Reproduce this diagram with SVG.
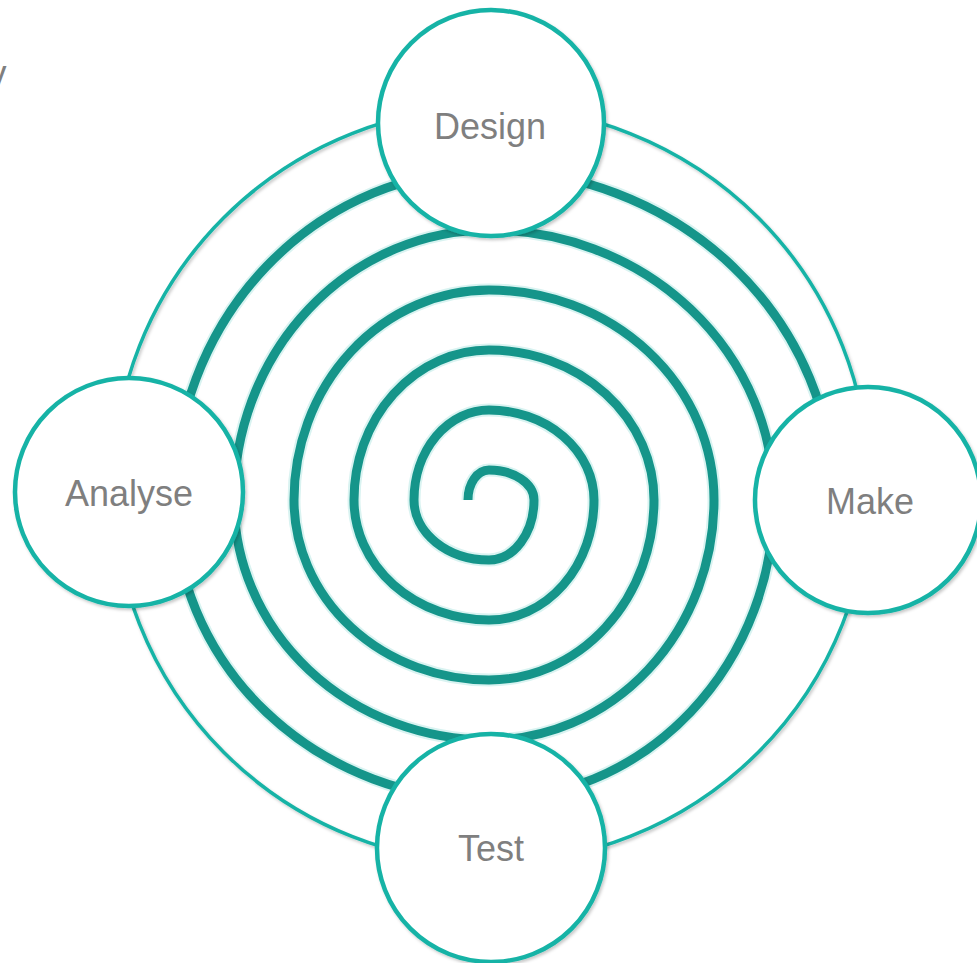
<svg xmlns="http://www.w3.org/2000/svg" width="977" height="963" viewBox="0 0 977 963">
  <style>
    .ring { fill: none; stroke: #17b3a6; stroke-width: 3.5; }
    .node circle { fill: #ffffff; stroke: #17b3a6; stroke-width: 4.5; }
    .node text, .label { font-family: "Liberation Sans", Arial, sans-serif; font-size: 36px; fill: #7f7f7f; text-anchor: middle; }
    .spiral { fill: none; stroke: #15958a; stroke-width: 9; stroke-linecap: butt; }
    .halo { fill: none; stroke: #d9f3f1; stroke-width: 13; }
  </style>
  <defs>
    <filter id="shadow" x="-20%" y="-20%" width="140%" height="140%">
      <feDropShadow dx="1.5" dy="2" stdDeviation="1.5" flood-color="#000" flood-opacity="0.22"/>
    </filter>
  </defs>
  <rect width="977" height="963" fill="#ffffff"/>

  <text class="label" x="-2.5" y="86" style="text-anchor: middle" fill="#707070">y</text>

  <g id="background">
    <circle class="ring" cx="491" cy="485" r="378" filter="url(#shadow)"/>
    <g id="spiral-group">
      <path id="spiral-halo" class="halo" d="M 468 500 A 21 30 0 0 1 489 470 A 45 30 0 0 1 534 500 A 45 60 0 0 1 489 560 A 75 60 0 0 1 414 500 A 75 90 0 0 1 489 410 A 105 90 0 0 1 594 500 A 105 120 0 0 1 489 620 A 135 120 0 0 1 354 500 A 135 150 0 0 1 489 350 A 165 150 0 0 1 654 500 A 165 180 0 0 1 489 680 A 195 180 0 0 1 294 500 A 195 210 0 0 1 489 290 A 225 210 0 0 1 714 500 A 225 240 0 0 1 489 740 A 255 240 0 0 1 234 500 A 255 270 0 0 1 489 230 A 285 270 0 0 1 774 500 A 285 300 0 0 1 489 800 A 315 300 0 0 1 174 500 A 315 330 0 0 1 489 170 A 345 330 0 0 1 834 500"/>
      <path id="spiral" class="spiral" d="M 468 500 A 21 30 0 0 1 489 470 A 45 30 0 0 1 534 500 A 45 60 0 0 1 489 560 A 75 60 0 0 1 414 500 A 75 90 0 0 1 489 410 A 105 90 0 0 1 594 500 A 105 120 0 0 1 489 620 A 135 120 0 0 1 354 500 A 135 150 0 0 1 489 350 A 165 150 0 0 1 654 500 A 165 180 0 0 1 489 680 A 195 180 0 0 1 294 500 A 195 210 0 0 1 489 290 A 225 210 0 0 1 714 500 A 225 240 0 0 1 489 740 A 255 240 0 0 1 234 500 A 255 270 0 0 1 489 230 A 285 270 0 0 1 774 500 A 285 300 0 0 1 489 800 A 315 300 0 0 1 174 500 A 315 330 0 0 1 489 170 A 345 330 0 0 1 834 500"/>
    </g>
  </g>

  <g id="connectors"></g>

  <g id="node-design" class="node">
    <circle cx="491" cy="123" r="113" filter="url(#shadow)"/>
    <text x="490" y="139">Design</text>
  </g>
  <g id="node-make" class="node">
    <circle cx="868" cy="500" r="113" filter="url(#shadow)"/>
    <text x="870" y="514">Make</text>
  </g>
  <g id="node-test" class="node">
    <circle cx="491" cy="848" r="114" filter="url(#shadow)"/>
    <text x="491" y="861">Test</text>
  </g>
  <g id="node-analyse" class="node">
    <circle cx="129" cy="492" r="114" filter="url(#shadow)"/>
    <text x="129" y="506">Analyse</text>
  </g>
</svg>
